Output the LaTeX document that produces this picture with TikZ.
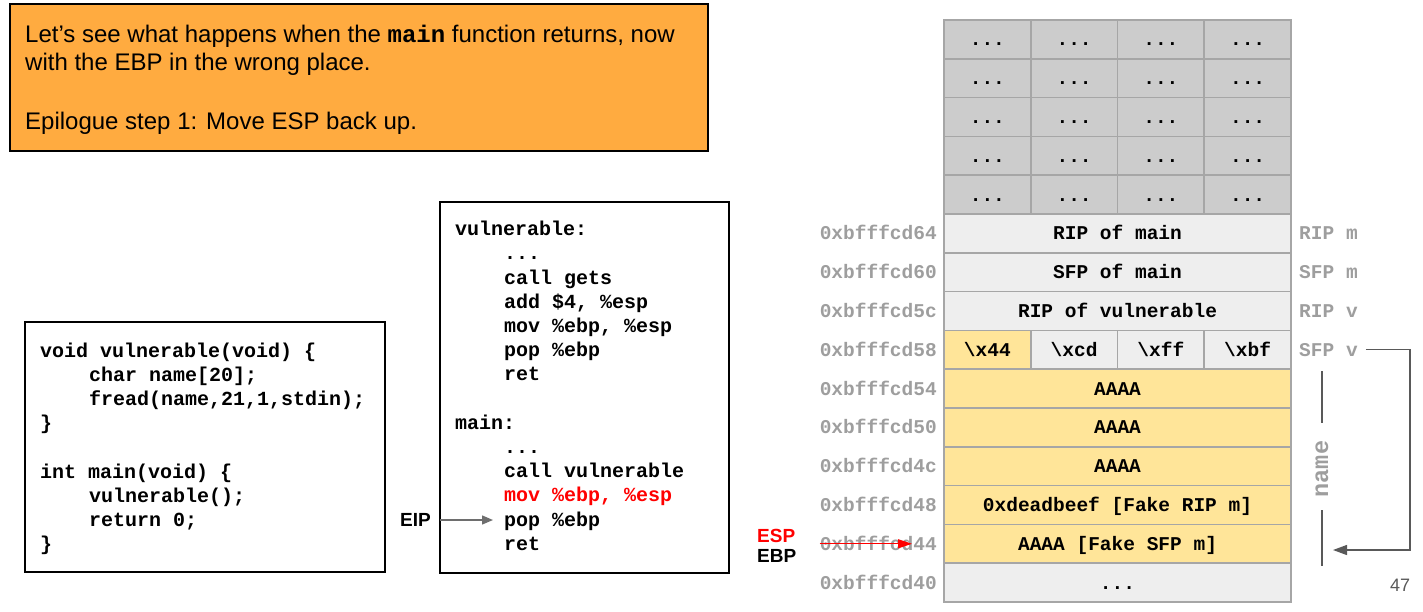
\documentclass[tikz,border=0pt]{standalone}
\usepackage{fontspec}
\setmainfont{Liberation Sans}
\setmonofont{Liberation Mono}
\usetikzlibrary{arrows.meta}
\definecolor{orangebox}{HTML}{FFAB40}
\definecolor{cellgray}{HTML}{CCCCCC}
\definecolor{celllight}{HTML}{EEEEEE}
\definecolor{cellyellow}{HTML}{FFE599}
\definecolor{cellborder}{HTML}{A6A6A6}
\definecolor{addrgray}{HTML}{9E9E9E}
\definecolor{arrowgray}{HTML}{595959}
\definecolor{eipgray}{HTML}{6E6E6E}
\definecolor{codered}{HTML}{FF0000}
\tikzset{
  cellbase/.style={draw=cellborder, line width=1.6pt, minimum height=38.8pt, inner sep=0pt, outer sep=0pt,
    anchor=north west, text height=13pt, text depth=0pt,
    font=\ttfamily\bfseries\fontsize{19.5}{19.5}\selectfont},
  cellq/.style={cellbase, minimum width=86.75pt},
  cellw/.style={cellbase, minimum width=347pt},
  addr/.style={anchor=east, inner sep=0pt, text=addrgray, text height=13pt, text depth=0pt,
    font=\ttfamily\bfseries\fontsize{19.5}{19.5}\selectfont},
  rlab/.style={anchor=west, inner sep=0pt, text=addrgray, text height=13pt, text depth=0pt,
    font=\ttfamily\bfseries\fontsize{19.5}{19.5}\selectfont},
  codeline/.style={anchor=base west, inner sep=0pt, font=\ttfamily\bfseries\fontsize{20}{24}\selectfont},
  introline/.style={anchor=base west, inner sep=0pt, font=\fontsize{24}{28}\selectfont},
  codebox/.style={draw=black, line width=2.8pt, anchor=north west, inner sep=0pt, outer sep=0pt},
  reglab/.style={anchor=west, inner sep=0pt, font=\bfseries\fontsize{19}{19}\selectfont},
}
\begin{document}
\begin{tikzpicture}[x=1pt,y=-1pt]
\useasboundingbox (0,0) rectangle (1423,611);
% intro box
\node[draw=black, line width=2.4pt, fill=orangebox, anchor=north west, inner sep=0pt, outer sep=0pt,
  minimum width=698pt, minimum height=147pt] (intro) at (10,4) {};
\node[introline] (i1) at (25,42) {Let’s see what happens when the \texttt{\bfseries main} function returns, now};
\node[introline] (i2) at (25,70.5) {with the EBP in the wrong place.};
\node[introline] (i3) at (25,129.5) {Epilogue step 1: Move ESP back up.};
% C code box
\node[codebox, minimum width=360pt, minimum height=250pt] (cbox) at (25,322) {};
\node[codeline] (c1) at (40,357) {void vulnerable(void) \{};
\node[codeline] (c2) at (89,381.2) {char name[20];};
\node[codeline] (c3) at (89,405.4) {fread(name,21,1,stdin);};
\node[codeline] (c4) at (40,429.6) {\}};
\node[codeline] (c5l) at (40,478) {int main(void) \{};
\node[codeline] (c6) at (89,502.2) {vulnerable();};
\node[codeline] (c7) at (89,526.4) {return 0;};
\node[codeline] (c8) at (40,550.6) {\}};
% asm box
\node[codebox, minimum width=289pt, minimum height=371pt] (abox) at (440,202) {};
\node[codeline] (a1) at (455,235.7) {vulnerable:};
\node[codeline] (a2) at (504,259.9) {...};
\node[codeline] (a3) at (504,284.1) {call gets};
\node[codeline] (a4) at (504,308.3) {add \$4, \%esp};
\node[codeline] (a5) at (504,332.5) {mov \%ebp, \%esp};
\node[codeline] (a6) at (504,356.7) {pop \%ebp};
\node[codeline] (a7) at (504,380.9) {ret};
\node[codeline] (a8) at (455,429.3) {main:};
\node[codeline] (a9) at (504,453.5) {...};
\node[codeline] (a10) at (504,477.7) {call vulnerable};
\node[codeline, text=codered] (a11) at (504,501.9) {mov \%ebp, \%esp};
\node[codeline] (a12) at (504,526.1) {pop \%ebp};
\node[codeline] (a13) at (504,550.3) {ret};
% EIP
\node[reglab] (eip) at (400,520) {EIP};
\draw[eipgray, line width=1.4pt, -{Triangle[length=11pt,width=9pt]}, shorten <=9pt, shorten >=11pt]
  (eip.east) -- (eip.east -| a12.west);
% stack: gray rows
\foreach \r in {0,...,4}{
  \foreach \c in {0,...,3}{
    \node[cellq, fill=cellgray] (g\r\c) at (944+\c*86.75, 20+\r*38.8) {...};
  }
}
\node[cellw, fill=celllight] (s5) at (944,214) {RIP of main};
\node[cellw, fill=celllight] (s6) at (944,252.8) {SFP of main};
\node[cellw, fill=celllight] (s7) at (944,291.6) {RIP of vulnerable};
\node[cellq, fill=cellyellow] (s8a) at (944,330.4) {\textbackslash x44};
\node[cellq, fill=celllight] (s8b) at (1030.75,330.4) {\textbackslash xcd};
\node[cellq, fill=celllight] (s8c) at (1117.5,330.4) {\textbackslash xff};
\node[cellq, fill=celllight] (s8d) at (1204.25,330.4) {\textbackslash xbf};
\node[cellw, fill=cellyellow] (s9) at (944,369.2) {AAAA};
\node[cellw, fill=cellyellow] (s10) at (944,408) {AAAA};
\node[cellw, fill=cellyellow] (s11) at (944,446.8) {AAAA};
\node[cellw, fill=cellyellow] (s12) at (944,485.6) {0xdeadbeef [Fake RIP m]};
\node[cellw, fill=cellyellow] (s13) at (944,524.4) {AAAA [Fake SFP m]};
\node[cellw, fill=celllight] (s14) at (944,563.2) {...};
% addresses
\node[addr] (ad5) at ([xshift=-7pt]s5.west) {0xbfffcd64};
\node[addr] (ad6) at ([xshift=-7pt]s6.west) {0xbfffcd60};
\node[addr] (ad7) at ([xshift=-7pt]s7.west) {0xbfffcd5c};
\node[addr] (ad8) at ([xshift=-7pt]s8a.west) {0xbfffcd58};
\node[addr] (ad9) at ([xshift=-7pt]s9.west) {0xbfffcd54};
\node[addr] (ad10) at ([xshift=-7pt]s10.west) {0xbfffcd50};
\node[addr] (ad11) at ([xshift=-7pt]s11.west) {0xbfffcd4c};
\node[addr] (ad12) at ([xshift=-7pt]s12.west) {0xbfffcd48};
\node[addr] (ad13) at ([xshift=-7pt]s13.west) {0xbfffcd44};
\node[addr] (ad14) at ([xshift=-7pt]s14.west) {0xbfffcd40};
% right labels
\node[rlab] (rl5) at ([xshift=8pt]s5.east) {RIP m};
\node[rlab] (rl6) at ([xshift=8pt]s6.east) {SFP m};
\node[rlab] (rl7) at ([xshift=8pt]s7.east) {RIP v};
\node[rlab] (rl8) at ([xshift=8pt]s8d.east) {SFP v};
% ESP / EBP
\node[reglab, text=codered] (esp) at (757,536) {ESP};
\node[reglab] (ebp) at (757,556) {EBP};
\draw[codered, line width=1.3pt, -{Triangle[length=14pt,width=9pt]}, shorten >=32pt]
  (ad13.west) -- (s13.west);
% name bracket
\node[rotate=90, inner sep=0pt, text=addrgray, font=\ttfamily\bfseries\fontsize{23.5}{23.5}\selectfont]
  (namelbl) at (1322,469) {name};
\draw[arrowgray, line width=1.3pt] (1322,371) -- (1322,423);
\draw[arrowgray, line width=1.3pt] (1322,510) -- (1322,566);
\coordinate (bend) at (1410,550);
\coordinate (nameend) at (1333,550);
\draw[arrowgray, line width=1.3pt, -{Triangle[length=14pt,width=10pt]}]
  ([xshift=8pt]rl8.east) -| (bend) -- (nameend);
% page number
\node[inner sep=0pt, text=arrowgray, font=\fontsize{18}{18}\selectfont] (pnum) at (1400,585) {47};
\end{tikzpicture}
\end{document}
